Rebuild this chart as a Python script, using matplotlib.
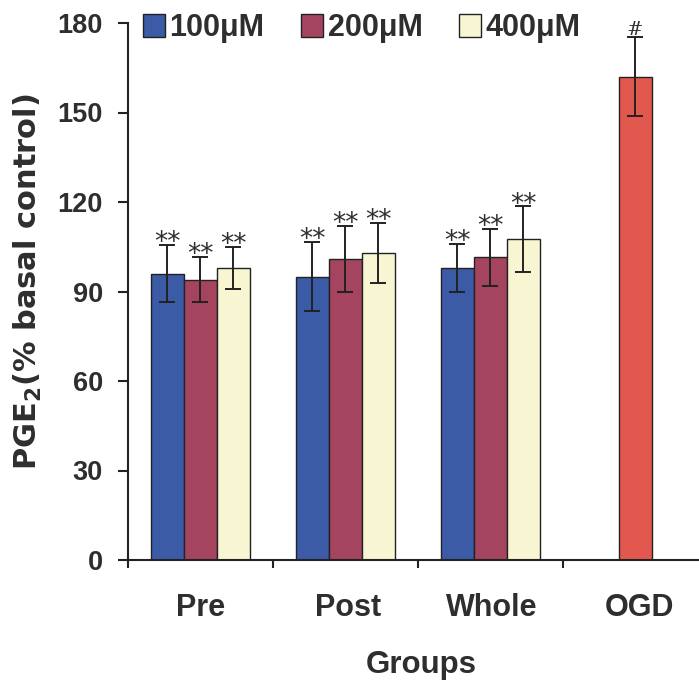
import matplotlib
matplotlib.use("Agg")
import matplotlib.pyplot as plt
from matplotlib.patches import Patch
import numpy as np

plt.rcParams['font.family'] = ['Liberation Sans', 'DejaVu Sans']

groups = ["Pre", "Post", "Whole", "OGD"]
series = ["100\u03bcM", "200\u03bcM", "400\u03bcM"]
means = {
    "100\u03bcM": [96, 95, 98],
    "200\u03bcM": [94, 101, 101.5],
    "400\u03bcM": [98, 103, 107.5],
}
errs = {
    "100\u03bcM": [9.5, 11.5, 8],
    "200\u03bcM": [7.5, 11, 9.5],
    "400\u03bcM": [7, 10, 11],
}
ogd_mean = 162
ogd_err = 13.3
sig_marks = "**"
ogd_mark = "#"

colors = {"100\u03bcM": "#3b5ba7", "200\u03bcM": "#a4445f", "400\u03bcM": "#f8f6d2"}
ogd_color = "#e2584f"
txt = "#2e2e2e"
dark = "#222222"

fig = plt.figure(figsize=(6.99, 6.83), dpi=100)
ax = fig.add_axes([128/699, (683-560)/683, (699-128)/699, (560-23)/683])

width = 0.228
offsets = [-width, 0, width]
x3 = np.arange(3)
for s, off in zip(series, offsets):
    xs = x3 + off
    ax.bar(xs, means[s], width, color=colors[s], edgecolor=dark, linewidth=1.0, zorder=2)
    ax.errorbar(xs, means[s], yerr=errs[s], fmt="none", ecolor=dark,
                elinewidth=1.4, capsize=5.5, capthick=1.4, zorder=3)
    for x, m, e in zip(xs, means[s], errs[s]):
        ax.text(x, m + e - 3.7, sig_marks, ha="center", va="bottom",
                fontsize=19, color=txt, family="DejaVu Sans")

ax.bar([3], [ogd_mean], width, color=ogd_color, edgecolor=dark, linewidth=1.0, zorder=2)
ax.errorbar([3], [ogd_mean], yerr=[ogd_err], fmt="none", ecolor=dark,
            elinewidth=1.4, capsize=5.5, capthick=1.4, zorder=3)
ax.text(3, ogd_mean + ogd_err - 0.7, ogd_mark, ha="center", va="bottom",
        fontsize=14, color=txt, family="DejaVu Serif")

ax.set_xlim((128-200)/145, (699-200)/145)
ax.set_ylim(0, 180)
ax.set_yticks(np.arange(0, 181, 30))
ax.spines["top"].set_visible(False)
ax.spines["right"].set_visible(False)
for sp in ["left", "bottom"]:
    ax.spines[sp].set_linewidth(1.5)
    ax.spines[sp].set_color(dark)

ax.set_xticks(np.arange(len(groups)) + np.array([0.0, 0.02, 0.01, 0.03]))
ax.set_xticklabels(groups)
ax.set_xticks(np.arange(len(groups)) - 0.5, minor=True)
ax.tick_params(axis="x", which="major", length=0, pad=24, labelsize=22, labelcolor=txt)
ax.tick_params(axis="x", which="minor", length=6, width=1.5, color=dark, direction="out")
ax.tick_params(axis="y", length=7, width=1.5, color=dark, labelsize=19.5, labelcolor=txt, pad=11)
for lab in ax.get_xticklabels() + ax.get_yticklabels():
    lab.set_fontweight("bold")

ax.set_xlabel("Groups", fontsize=22.5, fontweight="bold", color=txt)
ax.xaxis.set_label_coords((421-128)/571, (560-650)/537)
ax.set_ylabel("PGE$_\\mathbf{2}$(% basal control)", fontsize=22, fontweight="bold",
              color=txt, family="DejaVu Sans")
ax.yaxis.set_label_coords((44-128)/571, (560-282)/537)

handles = [Patch(facecolor=colors[s], edgecolor=dark, linewidth=1.0) for s in series]
leg = ax.legend(handles, series, ncol=3, loc="center left",
                bbox_to_anchor=((143-128)/571, (560-28)/537),
                frameon=False, fontsize=22, handlelength=0.72, handleheight=0.75,
                handletextpad=0.15, columnspacing=1.2, borderaxespad=0, borderpad=0)
for t in leg.get_texts():
    t.set_fontweight("bold")
    t.set_color(txt)

fig.savefig("out.png", dpi=100)
